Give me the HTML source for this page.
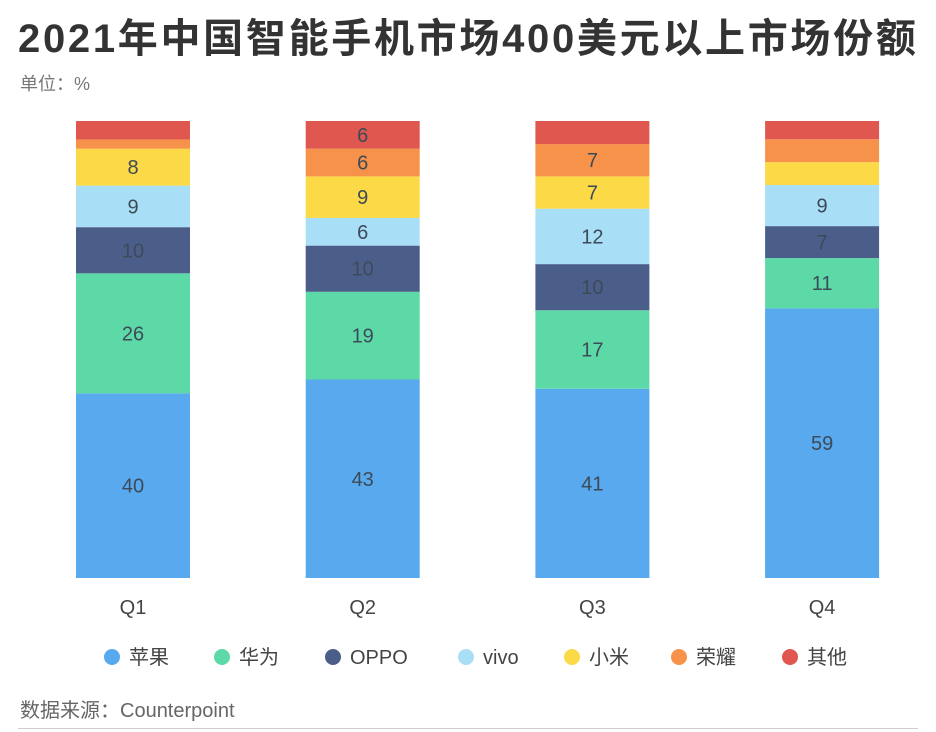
<!DOCTYPE html>
<html><head><meta charset="utf-8"><style>
body{margin:0;width:936px;height:732px;background:#fff;font-family:"Liberation Sans","Noto Sans CJK SC",sans-serif;overflow:hidden;position:relative}
.t{position:absolute;left:18px;top:6px;font-size:40px;font-weight:bold;color:#333;letter-spacing:2.7px;white-space:nowrap}
.u{position:absolute;left:20px;top:70px;font-size:18px;color:#777}
.s{position:absolute;left:20px;top:694px;font-size:20px;color:#666}
.ln{position:absolute;left:18px;right:18px;top:728px;border-top:1px solid #ccc}
</style></head><body>
<div class="t">2021年中国智能手机市场400美元以上市场份额</div>
<div class="u">单位：%</div>
<svg id="c" width="936" height="732" style="position:absolute;left:0;top:0"></svg>
<div class="s">数据来源：Counterpoint</div>
<div class="ln"></div>
<script>
const categories=["Q1","Q2","Q3","Q4"];
const seriesNames=["苹果","华为","OPPO","vivo","小米","荣耀","其他"];
const apple=[40,43,41,59];
const huawei=[26,19,17,11];
const oppo=[10,10,10,7];
const vivo=[9,6,12,9];
const xiaomi=[8,9,7,5];
const honor=[2,6,7,5];
const other=[4,6,5,4];
const showLabel=[[1,1,1,1],[1,1,1,1],[1,1,1,1],[1,1,1,1],[1,1,1,0],[0,1,1,0],[0,1,0,0]];
const series=[apple,huawei,oppo,vivo,xiaomi,honor,other];
const colors=["#58a9ee","#5dd9a7","#4b5e89","#a8def6","#fcd947","#f7924a","#e0574f"];
const svg=document.getElementById('c');const NS="http://www.w3.org/2000/svg";
const top0=121,bot=578,bw=114;
function xPos(i){return 76+i*229.7;}
function mk(t,a){const e=document.createElementNS(NS,t);for(const k in a)e.setAttribute(k,a[k]);svg.appendChild(e);return e;}
categories.forEach((c,i)=>{
 let tot=0;series.forEach(s=>tot+=s[i]);
 const sc=(bot-top0)/tot;let y=bot;
 series.forEach((s,j)=>{
  const h=s[i]*sc;y-=h;
  const r=mk('rect',{x:xPos(i),y:y,width:bw,height:h,fill:colors[j]});
  
  
  if(showLabel[j][i]){const t=mk('text',{x:xPos(i)+bw/2,y:y+h/2+7,'text-anchor':'middle','font-size':20,fill:'#3d4a58'});t.textContent=s[i];
  
  }
 });
 const t=mk('text',{x:xPos(i)+bw/2,y:614,'text-anchor':'middle','font-size':20,fill:'#444'});t.textContent=c;
 
 
});
const lx=[112,222,333,466,572,679,790];
seriesNames.forEach((n,j)=>{
 const c=mk('circle',{cx:lx[j],cy:657,r:8,fill:colors[j]});
 
 
 const t=mk('text',{x:lx[j]+17,y:664,'font-size':20,fill:'#444'});t.textContent=n;
 
 
});
</script>
</body></html>
